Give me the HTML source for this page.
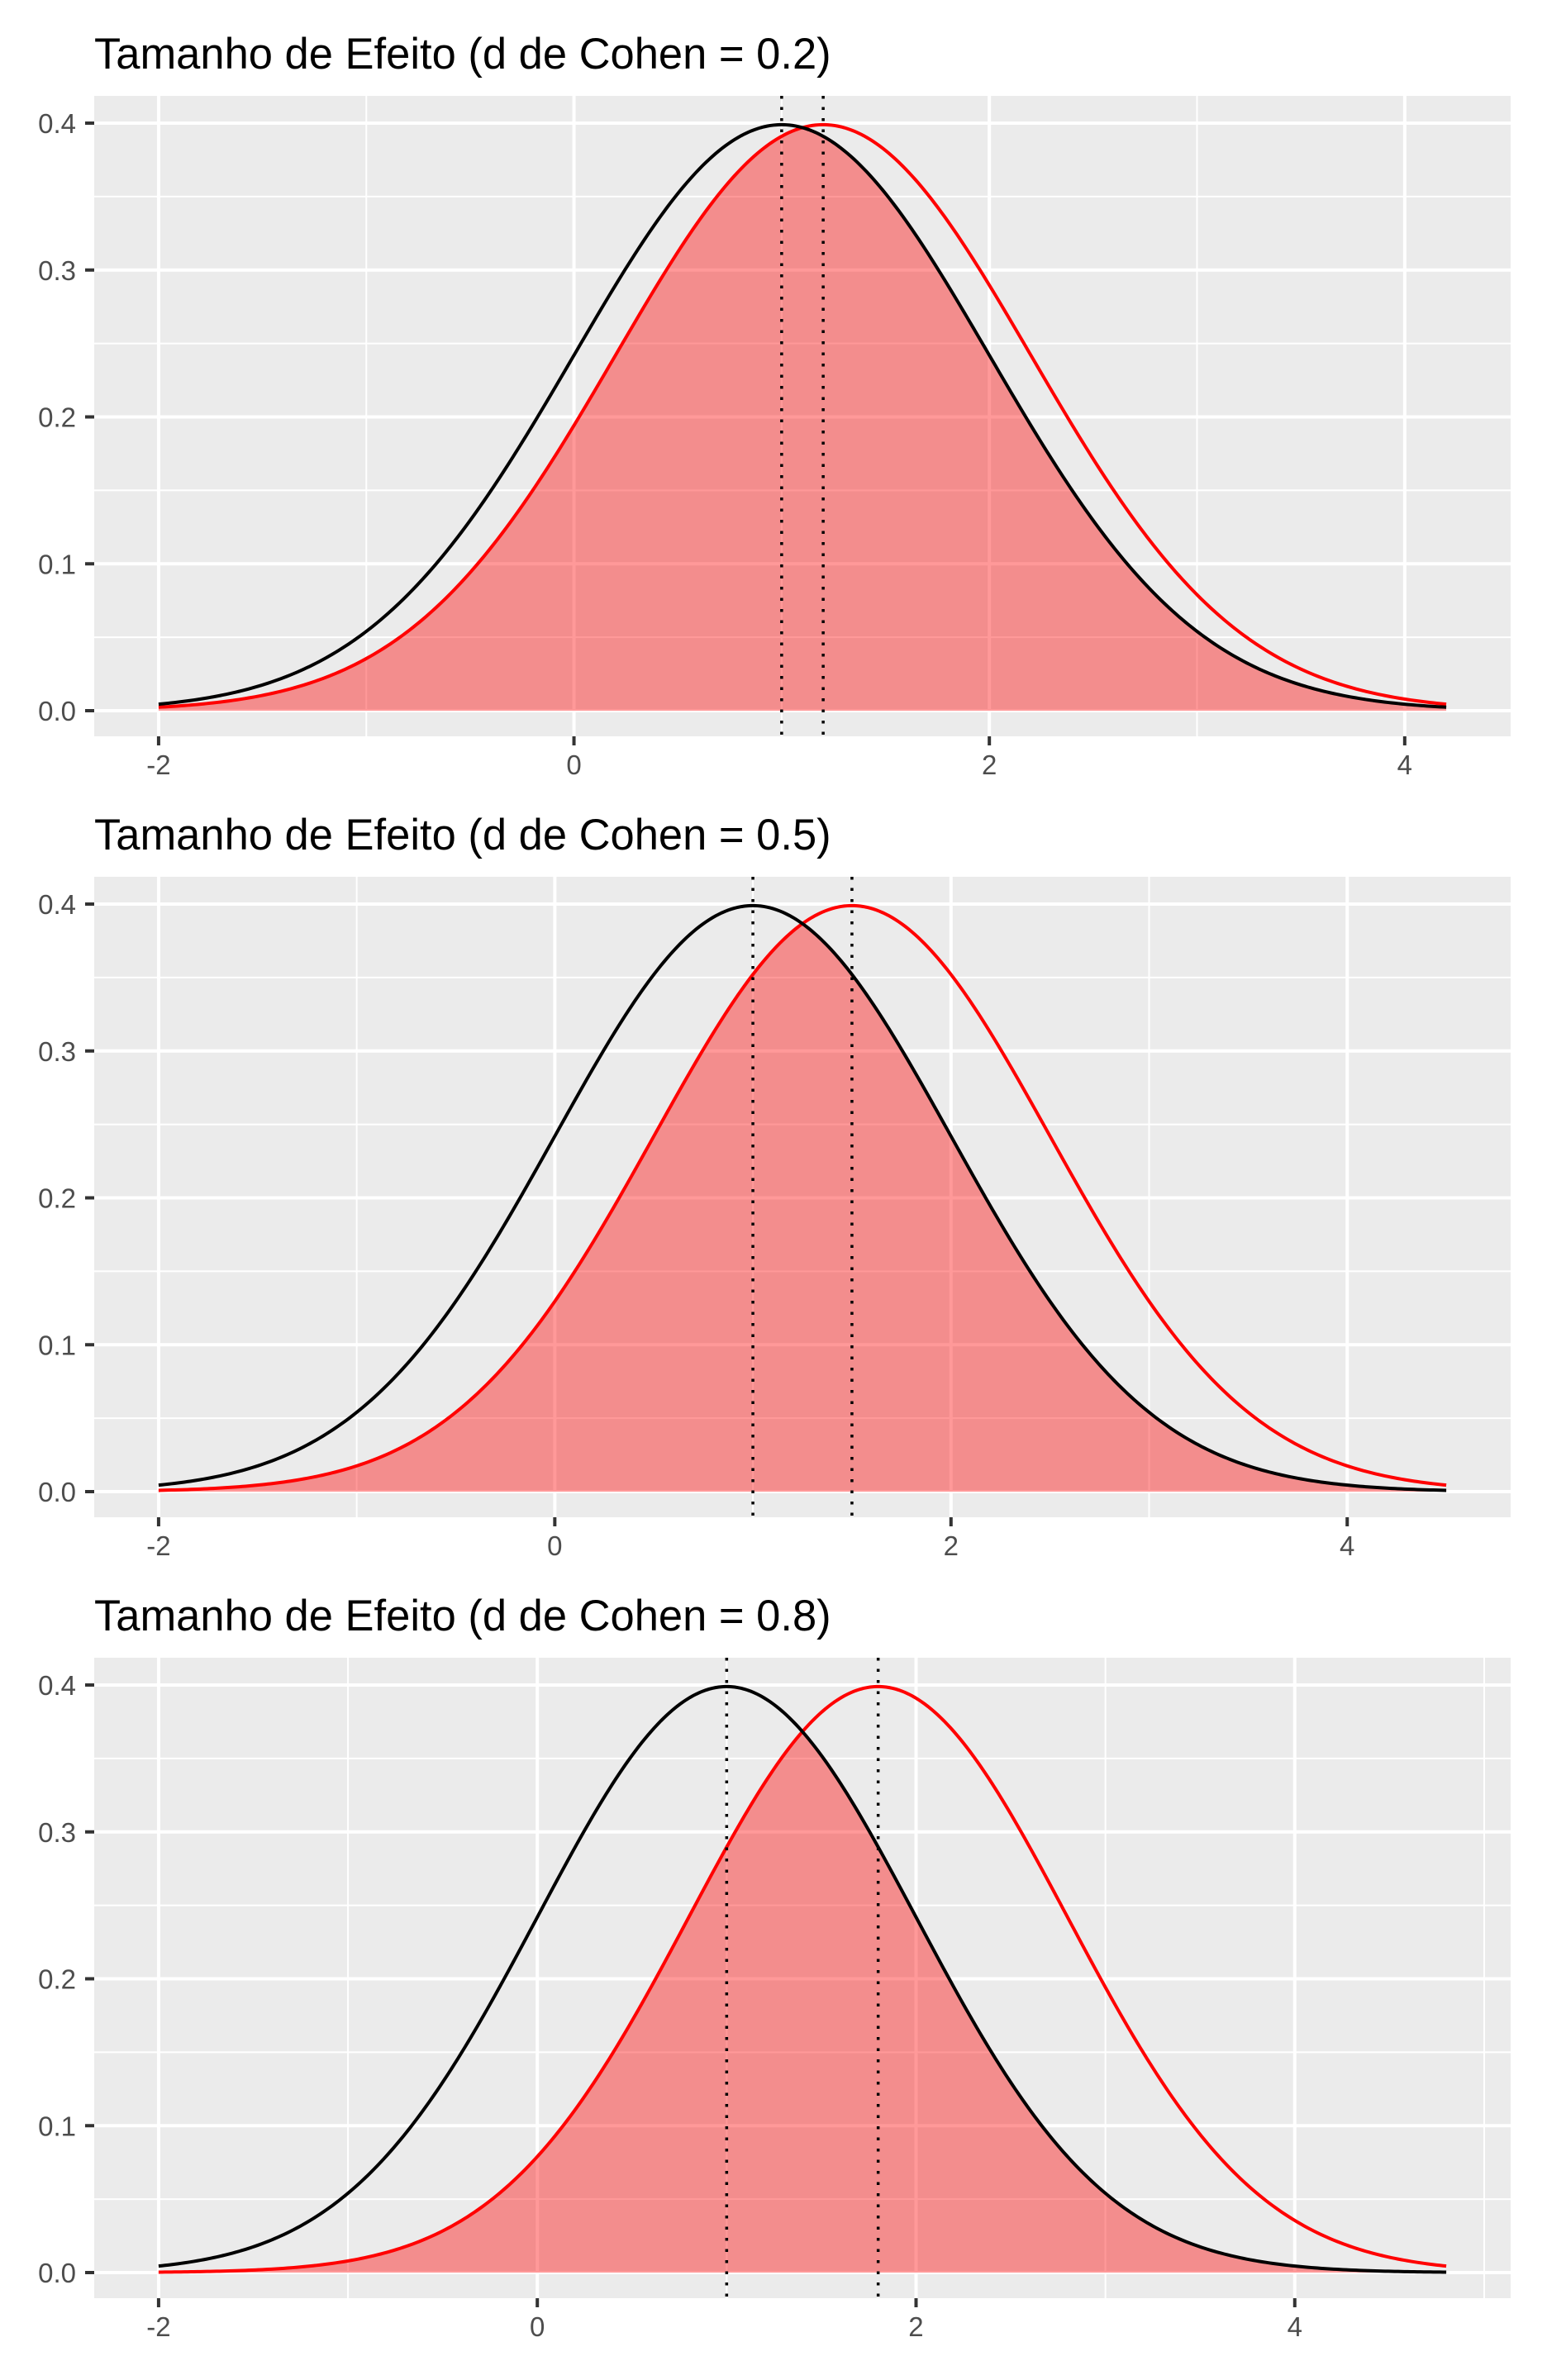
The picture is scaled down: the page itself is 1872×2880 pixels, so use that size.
<!DOCTYPE html>
<html><head><meta charset="utf-8">
<style>
html,body{margin:0;padding:0;background:#fff;}
svg{display:block;font-family:"Liberation Sans",Arial,sans-serif;}
</style></head>
<body>
<svg id="chart" width="1872" height="2880" viewBox="0 0 1872 2880" xmlns="http://www.w3.org/2000/svg"></svg>
<script>
const effectSizes = [0.2, 0.5, 0.8];
const controlMeans = [1, 1, 1];
const treatmentMeans = [1.2, 1.5, 1.8];
const sdValues = [1, 1, 1];
const xStarts = [-2, -2, -2];
const xEnds = [4.2, 4.5, 4.8];
const yTicks = [0, 0.1, 0.2, 0.3, 0.4];
const yTickLabels = ["0.0", "0.1", "0.2", "0.3", "0.4"];
const xTicks = [-2, 0, 2, 4];
const xTickLabels = ["-2", "0", "2", "4"];

const NS = "http://www.w3.org/2000/svg";
const svg = document.getElementById('chart');
function mk(tag, attrs, parent){
  const e = document.createElementNS(NS, tag);
  for (const k in attrs) e.setAttribute(k, attrs[k]);
  (parent||svg).appendChild(e);
  return e;
}
function dnorm(x, m, s){ return Math.exp(-0.5*((x-m)/s)**2)/(s*Math.sqrt(2*Math.PI)); }

const L = 114, R = 1828, PANEL_STEP = 945;
effectSizes.forEach((d, i) => {
  const off = i*PANEL_STEP;
  const top = 116+off, bot = 891+off;
  const x0 = xStarts[i], x1 = xEnds[i];
  const pad = (x1-x0)*0.05;
  const xmin = x0-pad, xmax = x1+pad;
  const xs = v => L + (v-xmin)/(xmax-xmin)*(R-L);
  const ys = v => (860+off) - v/0.4*711;

  const g = mk('g', {});
  
  

  const title = mk('text', {x: L, y: 83+off, 'font-size': 52.5, fill: '#000'}, g);
  title.textContent = 'Tamanho de Efeito (d de Cohen = ' + d + ')';
  
  

  const bg = mk('rect', {x: L, y: top, width: R-L, height: bot-top, fill: '#EBEBEB'}, g);
  
  

  for (let v = 0.05; v < 0.42; v += 0.1) {
    const gl = mk('line', {x1: L, x2: R, y1: ys(v), y2: ys(v), stroke: '#fff', 'stroke-width': 2}, g);
    
    
  }
  for (let v = Math.ceil(xmin); v <= xmax; v++) {
    if (Math.abs(v % 2) === 1) {
      const gl = mk('line', {x1: xs(v), x2: xs(v), y1: top, y2: bot, stroke: '#fff', 'stroke-width': 2}, g);
      
      
    }
  }
  yTicks.forEach((v, k) => {
    const gl = mk('line', {x1: L, x2: R, y1: ys(v), y2: ys(v), stroke: '#fff', 'stroke-width': 4}, g);
    
    
    const tk = mk('line', {x1: 103, x2: L, y1: ys(v), y2: ys(v), stroke: '#333', 'stroke-width': 4}, g);
    
    
    const t = mk('text', {x: 92, y: ys(v)+12, 'font-size': 33, fill: '#4D4D4D', 'text-anchor': 'end'}, g);
    t.textContent = yTickLabels[k];
    
    
  });
  xTicks.forEach((v, k) => {
    const gl = mk('line', {x1: xs(v), x2: xs(v), y1: top, y2: bot, stroke: '#fff', 'stroke-width': 4}, g);
    
    
    const tk = mk('line', {x1: xs(v), x2: xs(v), y1: bot, y2: bot+11, stroke: '#333', 'stroke-width': 4}, g);
    
    
    const t = mk('text', {x: xs(v), y: bot+46, 'font-size': 33, fill: '#4D4D4D', 'text-anchor': 'middle'}, g);
    t.textContent = xTickLabels[k];
    
    
  });

  const N = 400;
  let fillD = 'M' + xs(x0) + ',' + ys(0);
  let bD = '', rD = '';
  for (let j = 0; j <= N; j++) {
    const x = x0 + (x1-x0)*j/N;
    const b = dnorm(x, controlMeans[i], sdValues[i]);
    const r = dnorm(x, treatmentMeans[i], sdValues[i]);
    fillD += 'L' + xs(x).toFixed(2) + ',' + ys(Math.min(b, r)).toFixed(2);
    bD += (j ? 'L' : 'M') + xs(x).toFixed(2) + ',' + ys(b).toFixed(2);
    rD += (j ? 'L' : 'M') + xs(x).toFixed(2) + ',' + ys(r).toFixed(2);
  }
  fillD += 'L' + xs(x1) + ',' + ys(0) + 'Z';
  const fa = mk('path', {d: fillD, fill: 'rgba(255,0,0,0.4)', stroke: 'none'}, g);
  
  
  const rl = mk('path', {d: rD, fill: 'none', stroke: '#FF0000', 'stroke-width': 4}, g);
  
  
  const bl = mk('path', {d: bD, fill: 'none', stroke: '#000', 'stroke-width': 4}, g);
  
  

  [controlMeans[i], treatmentMeans[i]].forEach((m, k) => {
    const vl = mk('line', {x1: xs(m), x2: xs(m), y1: top, y2: bot, stroke: '#000', 'stroke-width': 3.5, 'stroke-dasharray': '3.5 10'}, g);
    
    
  });
});
</script>
</body></html>
